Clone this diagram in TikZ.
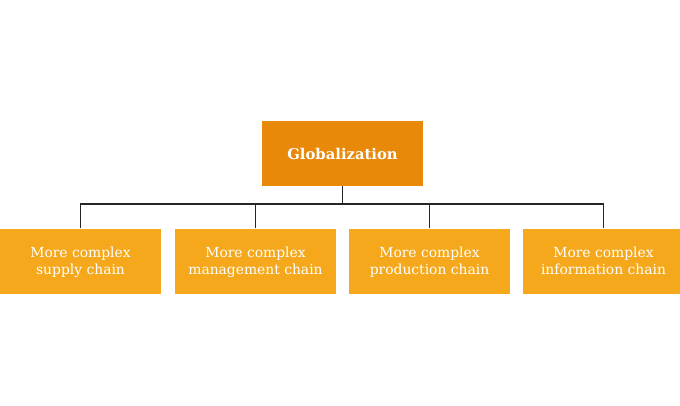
\documentclass[tikz,border=0pt]{standalone}
\usepackage{fontspec}
\setmainfont{DejaVu Serif}
\definecolor{globorange}{HTML}{E8890A}
\definecolor{chainorange}{HTML}{F5A81B}
\tikzset{
    topbox/.style={fill=globorange, text=white, minimum width=161*0.75pt, minimum height=65*0.75pt, inner sep=0pt, font=\fontsize{11.1}{13}\selectfont\bfseries},
    chainbox/.style={fill=chainorange, text=white, minimum width=161*0.75pt, minimum height=65*0.75pt, inner sep=0pt, align=center, text depth=0pt, font=\fontsize{10.4}{12.9}\selectfont},
    link/.style={line width=1.4pt, black!85}
}
\begin{document}
\begin{tikzpicture}[x=0.75pt, y=-0.75pt]
        \useasboundingbox (0,0) rectangle (680,405);

        % Draw top box
        \node[topbox] (glob) at (342.5,153.5) {Globalization};

        % Draw chain boxes
        \node[chainbox] (supply) at (80.5,261) {More complex\\supply chain};
        \node[chainbox] (management) at (255.5,261) {More complex\\management chain};
        \node[chainbox] (production) at (429.5,261) {More complex\\production chain};
        \node[chainbox] (information) at (603.5,261) {More complex\\information chain};

        % Connect them
        \coordinate (bar) at (342.5,204);
        \draw[link] (glob.south) -- (bar);
        \draw[link] (supply.north) |- (information.north |- bar) -- (information.north);
        \foreach \c in {management,production} {
            \draw[link] (\c.north) -- (\c.north |- bar);
        }
    \end{tikzpicture}
\end{document}
